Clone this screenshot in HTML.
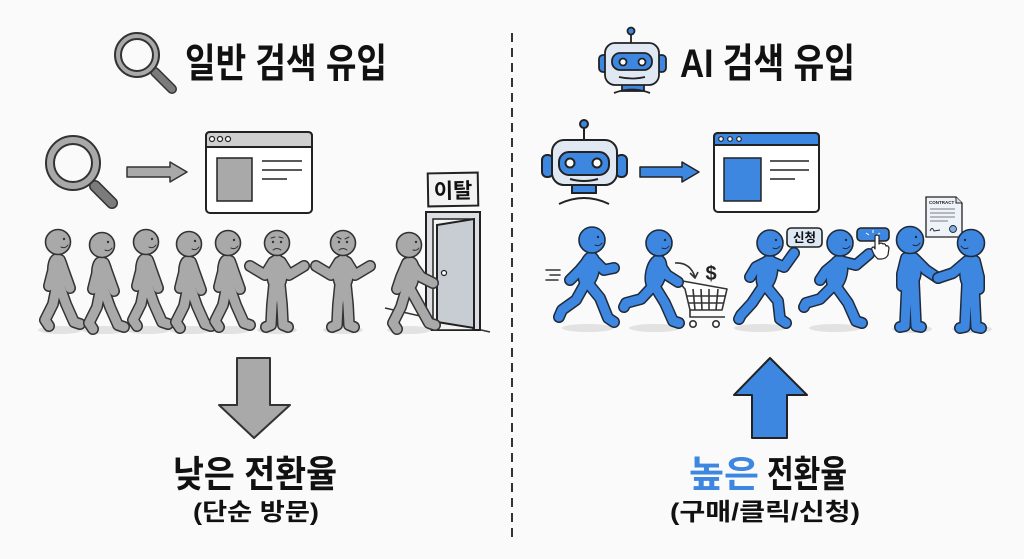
<!DOCTYPE html>
<html><head><meta charset="utf-8"><style>
html,body{margin:0;padding:0;background:#fafafa;}
svg{display:block;}
text{font-family:"Liberation Sans","Noto Sans CJK KR",sans-serif;font-weight:700;}
</style></head><body>
<svg width="1024" height="559" viewBox="0 0 1024 559" xmlns="http://www.w3.org/2000/svg">
<defs>
<g id="walk">
 <ellipse cx="0" cy="30" rx="5" ry="13" transform="rotate(-4 0 30)"/>
 <path fill="none" d="M-1,42 L-5,62 L-13,78 L-9,84"/>
 <path fill="none" d="M1,42 L8,62 L16,80 L22,82"/>
 <path fill="none" d="M-2,18 L-6,32 L-9,44"/>
 <path fill="none" d="M2,18 L7,32 L12,46"/>
</g>
<g id="walkdoor">
 <ellipse cx="0" cy="30" rx="5" ry="13" transform="rotate(6 0 30)"/>
 <path fill="none" d="M-2,42 L-8,62 L-16,78 L-12,84"/>
 <path fill="none" d="M0,42 L10,60 L20,78 L26,80"/>
 <path fill="none" d="M-2,18 L-8,32 L-12,44"/>
 <path fill="none" d="M2,18 L12,32 L24,38"/>
</g>
<g id="shrug">
 <ellipse cx="0" cy="30" rx="5" ry="13"/>
 <path fill="none" d="M-3,42 L-5,62 L-6,82 L-11,84"/>
 <path fill="none" d="M3,42 L5,62 L6,82 L11,84"/>
 <path fill="none" d="M-4,19 L-12,32 L-22,26 L-27,23"/>
 <path fill="none" d="M4,19 L12,32 L22,26 L27,23"/>
</g>
<g id="run1">
 <ellipse cx="-3" cy="30" rx="5" ry="13" transform="rotate(12 -3 30)"/>
 <path fill="none" d="M-6,42 L-16,60 L-30,70 L-33,77"/>
 <path fill="none" d="M-5,42 L8,58 L16,78 L22,82"/>
 <path fill="none" d="M-2,18 L-12,30 L-22,40"/>
 <path fill="none" d="M0,18 L12,30 L22,28"/>
</g>
<g id="run2">
 <ellipse cx="-3" cy="30" rx="5" ry="13" transform="rotate(12 -3 30)"/>
 <path fill="none" d="M-5,42 L-18,56 L-33,60 L-35,64"/>
 <path fill="none" d="M-5,42 L6,60 L14,78 L20,80"/>
 <path fill="none" d="M-1,19 L8,32 L19,39"/>
</g>
<g id="run3">
 <ellipse cx="-3" cy="30" rx="5" ry="13" transform="rotate(12 -3 30)"/>
 <path fill="none" d="M-6,42 L-18,60 L-29,72 L-31,76"/>
 <path fill="none" d="M-5,42 L8,58 L10,76 L16,80"/>
 <path fill="none" d="M-2,18 L-14,24 L-20,34"/>
 <path fill="none" d="M0,18 L14,24 L24,10"/>
</g>
<g id="run4">
 <ellipse cx="-3" cy="30" rx="5" ry="13" transform="rotate(12 -3 30)"/>
 <path fill="none" d="M-6,42 L-20,56 L-34,60 L-36,64"/>
 <path fill="none" d="M-5,42 L8,60 L16,78 L22,80"/>
 <path fill="none" d="M-2,18 L-14,28 L-20,37"/>
 <path fill="none" d="M0,18 L16,22 L29,11"/>
</g>
<g id="shakeL">
 <ellipse cx="0" cy="30" rx="6" ry="13"/>
 <path fill="none" d="M-3,42 L-5,86 L-10,87"/>
 <path fill="none" d="M4,42 L6,86 L11,87"/>
 <path fill="none" d="M-4,18 L-8,34 L-8,46"/>
 <path fill="none" d="M4,18 L16,30 L28,38"/>
</g>
<g id="shakeR">
 <ellipse cx="0" cy="30" rx="6" ry="13"/>
 <path fill="none" d="M3,42 L5,84 L10,85"/>
 <path fill="none" d="M-4,42 L-6,84 L-11,85"/>
 <path fill="none" d="M4,18 L8,34 L8,46"/>
 <path fill="none" d="M-4,18 L-18,30 L-33,35"/>
</g>
</defs>

<!-- divider -->
<line x1="512" y1="33" x2="512" y2="537" stroke="#333" stroke-width="2" stroke-dasharray="9,6"/>

<!-- ===== LEFT TITLE ===== -->
<g>
 <line x1="155" y1="72" x2="172" y2="89" stroke="#333" stroke-width="10" stroke-linecap="round"/>
 <line x1="155" y1="72" x2="172" y2="89" stroke="#7b7b7b" stroke-width="7" stroke-linecap="round"/>
 <circle cx="137" cy="55" r="22" fill="#a9a9a9" stroke="#333" stroke-width="2"/>
 <circle cx="137" cy="55" r="16" fill="#fafafa" stroke="#333" stroke-width="2"/>
</g>
<text x="185" y="77" font-size="40" fill="#111" textLength="202" lengthAdjust="spacingAndGlyphs">일반 검색 유입</text>

<!-- ===== RIGHT TITLE robot ===== -->
<g stroke="#222" stroke-width="1.8">
 <line x1="631" y1="33" x2="631" y2="43"/>
 <circle cx="631" cy="31" r="3.5" fill="#3d87e0"/>
 <rect x="599" y="55" width="9" height="17" rx="4" fill="#3d87e0"/>
 <rect x="657" y="55" width="9" height="17" rx="4" fill="#3d87e0"/>
 <rect x="622" y="84" width="22" height="7" fill="#3d87e0"/>
 <path d="M614,93 Q632,86 650,93" fill="none"/>
 <rect x="605" y="43" width="54" height="42" rx="10" fill="#dfe8f3"/>
 <rect x="612" y="53" width="40" height="17" rx="8" fill="#3d87e0"/>
 <circle cx="623" cy="62" r="3.5" fill="#fff"/>
 <circle cx="642" cy="62" r="3.5" fill="#fff"/>
 <path d="M619,77 Q632,80 645,77" fill="none"/>
</g>
<text x="680" y="77" font-size="40" fill="#111" textLength="175" lengthAdjust="spacingAndGlyphs">AI 검색 유입</text>

<!-- ===== LEFT ROW 2 ===== -->
<g>
 <line x1="95" y1="186" x2="112" y2="203" stroke="#333" stroke-width="12" stroke-linecap="round"/>
 <line x1="95" y1="186" x2="112" y2="203" stroke="#7b7b7b" stroke-width="9" stroke-linecap="round"/>
 <circle cx="73" cy="163" r="27" fill="#a9a9a9" stroke="#333" stroke-width="2"/>
 <circle cx="73" cy="163" r="19" fill="#fafafa" stroke="#333" stroke-width="2"/>
</g>
<polygon points="127,167 170,167 170,162 187,172 170,182 170,177 127,177" fill="#a9a9a9" stroke="#333" stroke-width="1.5" stroke-linejoin="round"/>
<g stroke="#222" stroke-width="2">
 <rect x="206" y="132" width="106" height="81" rx="4" fill="#fff"/>
 <path d="M206,147 L312,147 L312,136 Q312,132 308,132 L210,132 Q206,132 206,136 Z" fill="#cfcfcf"/>
 <circle cx="212" cy="139" r="2.5" fill="#fff" stroke-width="1.2"/>
 <circle cx="220" cy="139" r="2.5" fill="#fff" stroke-width="1.2"/>
 <circle cx="228" cy="139" r="2.5" fill="#fff" stroke-width="1.2"/>
 <rect x="217" y="158" width="35" height="43" fill="#a9a9a9" stroke-width="1.5"/>
 <line x1="262" y1="161" x2="302" y2="161" stroke-width="1.5"/>
 <line x1="262" y1="170" x2="302" y2="170" stroke-width="1.5"/>
 <line x1="262" y1="179" x2="287" y2="179" stroke-width="1.5"/>
</g>

<!-- door -->
<line x1="385" y1="308" x2="490" y2="332" stroke="#333" stroke-width="1.5"/>
<g transform="rotate(-1 453 190)">
 <rect x="428" y="173" width="50" height="33" fill="#f3f3f3" stroke="#222" stroke-width="2"/>
 <text x="453" y="198" font-size="21" text-anchor="middle" fill="#111">이탈</text>
</g>
<rect x="426" y="212" width="54" height="118" fill="#dcdee1" stroke="#222" stroke-width="2"/>
<rect x="433" y="219" width="40" height="111" fill="#f4f4f4" stroke="#222" stroke-width="1.5"/>
<polygon points="437,225 474,219 474,328 437,322" fill="#c8cdd4" stroke="#222" stroke-width="2"/>
<circle cx="444" cy="273" r="2.5" fill="#fff" stroke="#222" stroke-width="1.2"/>

<!-- gray people shadows -->
<g fill="#e2e2e2">
 <ellipse cx="60" cy="330" rx="22" ry="4"/>
 <ellipse cx="104" cy="330" rx="22" ry="4"/>
 <ellipse cx="148" cy="330" rx="22" ry="4"/>
 <ellipse cx="191" cy="330" rx="22" ry="4"/>
 <ellipse cx="230" cy="330" rx="20" ry="4"/>
 <ellipse cx="277" cy="330" rx="20" ry="4"/>
 <ellipse cx="343" cy="330" rx="20" ry="4"/>
 <ellipse cx="409" cy="330" rx="22" ry="4"/>
</g>

<!-- gray people -->
<g stroke-linecap="round" stroke-linejoin="round">
 <g transform="translate(58,242)"><use href="#walk" stroke="#333" fill="#333" stroke-width="12"/><use href="#walk" stroke="#a9a9a9" fill="#a9a9a9" stroke-width="9"/><circle r="12.5" fill="#a9a9a9" stroke="#333" stroke-width="1.6"/><circle cx="6" cy="-3" r="1.2" fill="#333"/><path d="M3,5 Q7,7 10,3" fill="none" stroke="#333" stroke-width="1"/></g>
 <g transform="translate(102,245)"><use href="#walk" stroke="#333" fill="#333" stroke-width="12"/><use href="#walk" stroke="#a9a9a9" fill="#a9a9a9" stroke-width="9"/><circle r="12.5" fill="#a9a9a9" stroke="#333" stroke-width="1.6"/><circle cx="6" cy="-3" r="1.2" fill="#333"/><path d="M3,5 Q7,7 10,3" fill="none" stroke="#333" stroke-width="1"/></g>
 <g transform="translate(146,242)"><use href="#walk" stroke="#333" fill="#333" stroke-width="12"/><use href="#walk" stroke="#a9a9a9" fill="#a9a9a9" stroke-width="9"/><circle r="12.5" fill="#a9a9a9" stroke="#333" stroke-width="1.6"/><circle cx="6" cy="-3" r="1.2" fill="#333"/><path d="M3,5 Q7,7 10,3" fill="none" stroke="#333" stroke-width="1"/></g>
 <g transform="translate(189,244)"><use href="#walk" stroke="#333" fill="#333" stroke-width="12"/><use href="#walk" stroke="#a9a9a9" fill="#a9a9a9" stroke-width="9"/><circle r="12.5" fill="#a9a9a9" stroke="#333" stroke-width="1.6"/><circle cx="6" cy="-3" r="1.2" fill="#333"/><path d="M3,5 Q7,7 10,3" fill="none" stroke="#333" stroke-width="1"/></g>
 <g transform="translate(228,243)"><use href="#walk" stroke="#333" fill="#333" stroke-width="12"/><use href="#walk" stroke="#a9a9a9" fill="#a9a9a9" stroke-width="9"/><circle r="12.5" fill="#a9a9a9" stroke="#333" stroke-width="1.6"/><circle cx="6" cy="-3" r="1.2" fill="#333"/><path d="M3,5 Q7,7 10,3" fill="none" stroke="#333" stroke-width="1"/></g>
 <g transform="translate(277,243)"><use href="#shrug" stroke="#333" fill="#333" stroke-width="12"/><use href="#shrug" stroke="#a9a9a9" fill="#a9a9a9" stroke-width="9"/><circle r="12.5" fill="#a9a9a9" stroke="#333" stroke-width="1.6"/><circle cx="-4" cy="-1" r="1.2" fill="#333"/><circle cx="4" cy="-1" r="1.2" fill="#333"/><path d="M-6,-5 L-2,-6 M2,-6 L6,-5" stroke="#333" stroke-width="1" fill="none"/><path d="M-4,7 Q0,4 4,7" fill="none" stroke="#333" stroke-width="1"/></g>
 <g transform="translate(343,243)"><use href="#shrug" stroke="#333" fill="#333" stroke-width="12"/><use href="#shrug" stroke="#a9a9a9" fill="#a9a9a9" stroke-width="9"/><circle r="12.5" fill="#a9a9a9" stroke="#333" stroke-width="1.6"/><circle cx="-4" cy="-1" r="1.2" fill="#333"/><circle cx="4" cy="-1" r="1.2" fill="#333"/><path d="M-6,-6 L-2,-4 M2,-4 L6,-6" stroke="#333" stroke-width="1" fill="none"/><path d="M-4,7 Q0,4 4,7" fill="none" stroke="#333" stroke-width="1"/></g>
 <g transform="translate(409,245)"><use href="#walkdoor" stroke="#333" fill="#333" stroke-width="12"/><use href="#walkdoor" stroke="#a9a9a9" fill="#a9a9a9" stroke-width="9"/><circle r="12.5" fill="#a9a9a9" stroke="#333" stroke-width="1.6"/><circle cx="7" cy="-3" r="1.2" fill="#333"/><path d="M4,5 Q8,6 10,3" fill="none" stroke="#333" stroke-width="1"/></g>
</g>

<!-- ===== RIGHT ROW 2 ===== -->
<g stroke="#222" stroke-width="2">
 <line x1="584" y1="127" x2="584" y2="140"/>
 <circle cx="584" cy="124" r="4" fill="#3d87e0"/>
 <rect x="542" y="155" width="11" height="22" rx="5" fill="#3d87e0"/>
 <rect x="616" y="155" width="11" height="22" rx="5" fill="#3d87e0"/>
 <rect x="572" y="184" width="24" height="9" fill="#3d87e0"/>
 <path d="M559,204 Q584,192 609,204" fill="none"/>
 <rect x="552" y="140" width="65" height="45" rx="12" fill="#dfe8f3"/>
 <rect x="559" y="152" width="50" height="23" rx="10" fill="#3d87e0"/>
 <circle cx="570" cy="163" r="4.5" fill="#fff"/>
 <circle cx="597" cy="163" r="4.5" fill="#fff"/>
 <path d="M570,179 Q584,183 598,179" fill="none"/>
</g>
<polygon points="640,167 682,167 682,162 699,172 682,182 682,177 640,177" fill="#3d87e0" stroke="#222" stroke-width="1.5" stroke-linejoin="round"/>
<g stroke="#222" stroke-width="2">
 <rect x="714" y="133" width="105" height="79" rx="4" fill="#fff"/>
 <path d="M714,145 L819,145 L819,137 Q819,133 815,133 L718,133 Q714,133 714,137 Z" fill="#3d87e0"/>
 <circle cx="721" cy="139" r="2.3" fill="#fff" stroke-width="1.2"/>
 <circle cx="730" cy="139" r="2.3" fill="#fff" stroke-width="1.2"/>
 <circle cx="739" cy="139" r="2.3" fill="#fff" stroke-width="1.2"/>
 <rect x="724" y="158" width="37" height="43" fill="#3d87e0" stroke-width="1.5"/>
 <line x1="770" y1="161" x2="809" y2="161" stroke-width="1.5"/>
 <line x1="770" y1="170" x2="809" y2="170" stroke-width="1.5"/>
 <line x1="770" y1="179" x2="795" y2="179" stroke-width="1.5"/>
</g>

<!-- blue shadows -->
<g fill="#e2e2e2">
 <ellipse cx="588" cy="328" rx="26" ry="4"/>
 <ellipse cx="655" cy="328" rx="26" ry="4"/>
 <ellipse cx="760" cy="328" rx="26" ry="4"/>
 <ellipse cx="835" cy="328" rx="26" ry="4"/>
 <ellipse cx="912" cy="329" rx="20" ry="4"/>
 <ellipse cx="972" cy="329" rx="20" ry="4"/>
</g>

<!-- speed lines -->
<g stroke="#333" stroke-width="1.5" stroke-linecap="round">
 <line x1="546" y1="270" x2="560" y2="270"/>
 <line x1="550" y1="275" x2="560" y2="275"/>
 <line x1="546" y1="280" x2="558" y2="280"/>
</g>

<!-- cart -->
<g stroke="#333" stroke-width="1.6" fill="none" stroke-linejoin="round">
 <path d="M677,280 L685,289 L690,310 L722,310 L727,289 Z" fill="#fff"/>
 <line x1="693" y1="289" x2="695" y2="310"/>
 <line x1="701" y1="289" x2="702" y2="310"/>
 <line x1="709" y1="289" x2="709" y2="310"/>
 <line x1="718" y1="289" x2="716" y2="310"/>
 <line x1="687" y1="296" x2="725" y2="296"/>
 <line x1="688" y1="303" x2="724" y2="303"/>
 <path d="M690,310 L690,317 L725,317"/>
 <circle cx="693" cy="324" r="3.2" fill="#fff"/>
 <circle cx="716" cy="324" r="3.2" fill="#fff"/>
 <path d="M675,263 Q690,262 695,277"/>
 <path d="M690,273 L695,278 L698,272"/>
</g>
<text x="711" y="280" font-size="20" text-anchor="middle" fill="#222" font-weight="400">$</text>

<!-- badge 신청 -->
<rect x="787" y="228" width="35" height="19" rx="4" fill="#dde8f5" stroke="#222" stroke-width="1.6"/>
<text x="804.5" y="242" font-size="12.5" text-anchor="middle" fill="#111">신청</text>

<!-- button -->
<rect x="857" y="228" width="32" height="13" rx="4" fill="#3d87e0" stroke="#222" stroke-width="1.6"/>
<g stroke="#fff" stroke-width="1">
 <line x1="873" y1="230" x2="873" y2="233"/>
 <line x1="866" y1="233" x2="869" y2="235"/>
 <line x1="880" y1="233" x2="877" y2="235"/>
</g>

<!-- contract -->
<path d="M926,197 L956,197 L962,203 L962,237 L926,237 Z" fill="#eef3f9" stroke="#222" stroke-width="1.3"/>
<path d="M956,197 L956,203 L962,203" fill="#dde" stroke="#222" stroke-width="1"/>
<text x="929" y="204" font-size="4.5" fill="#222" font-family="Liberation Sans, sans-serif">CONTRACT</text>
<g stroke="#555" stroke-width="0.8">
 <line x1="930" y1="209" x2="955" y2="209"/>
 <line x1="930" y1="213" x2="955" y2="213"/>
 <line x1="930" y1="217" x2="955" y2="217"/>
 <line x1="930" y1="221" x2="948" y2="221"/>
</g>
<path d="M930,231 Q932,226 934,231 L940,230" fill="none" stroke="#222" stroke-width="0.9"/>
<circle cx="953" cy="229" r="3.5" fill="#7fb0e8" stroke="#222" stroke-width="0.9"/>

<!-- blue people -->
<g stroke-linecap="round" stroke-linejoin="round">
 <g transform="translate(592,240)"><use href="#run1" stroke="#1f2a3a" fill="#1f2a3a" stroke-width="12"/><use href="#run1" stroke="#3d87e0" fill="#3d87e0" stroke-width="9"/><circle r="13" fill="#3d87e0" stroke="#1f2a3a" stroke-width="1.6"/><circle cx="6" cy="-3" r="1.2" fill="#1f2a3a"/><path d="M3,5 Q7,7 10,3" fill="none" stroke="#1f2a3a" stroke-width="1"/></g>
 <g transform="translate(659,243)"><use href="#run2" stroke="#1f2a3a" fill="#1f2a3a" stroke-width="12"/><use href="#run2" stroke="#3d87e0" fill="#3d87e0" stroke-width="9"/><circle r="13" fill="#3d87e0" stroke="#1f2a3a" stroke-width="1.6"/><circle cx="6" cy="-3" r="1.2" fill="#1f2a3a"/><path d="M3,5 Q7,7 10,3" fill="none" stroke="#1f2a3a" stroke-width="1"/></g>
 <g transform="translate(770,243)"><use href="#run3" stroke="#1f2a3a" fill="#1f2a3a" stroke-width="12"/><use href="#run3" stroke="#3d87e0" fill="#3d87e0" stroke-width="9"/><circle r="13" fill="#3d87e0" stroke="#1f2a3a" stroke-width="1.6"/><circle cx="6" cy="-3" r="1.2" fill="#1f2a3a"/><path d="M3,5 Q7,7 10,3" fill="none" stroke="#1f2a3a" stroke-width="1"/></g>
 <g transform="translate(840,243)"><use href="#run4" stroke="#1f2a3a" fill="#1f2a3a" stroke-width="12"/><use href="#run4" stroke="#3d87e0" fill="#3d87e0" stroke-width="9"/><circle r="13" fill="#3d87e0" stroke="#1f2a3a" stroke-width="1.6"/><circle cx="6" cy="-3" r="1.2" fill="#1f2a3a"/><path d="M3,5 Q7,7 10,3" fill="none" stroke="#1f2a3a" stroke-width="1"/></g>
 <g transform="translate(910,240)"><use href="#shakeL" stroke="#1f2a3a" fill="#1f2a3a" stroke-width="12"/><use href="#shakeL" stroke="#3d87e0" fill="#3d87e0" stroke-width="9"/><circle r="13.5" fill="#3d87e0" stroke="#1f2a3a" stroke-width="1.6"/><circle cx="6" cy="-3" r="1.2" fill="#1f2a3a"/><path d="M3,5 Q7,7 10,3" fill="none" stroke="#1f2a3a" stroke-width="1"/></g>
 <g transform="translate(971,243)"><use href="#shakeR" stroke="#1f2a3a" fill="#1f2a3a" stroke-width="12"/><use href="#shakeR" stroke="#3d87e0" fill="#3d87e0" stroke-width="9"/><circle r="13.5" fill="#3d87e0" stroke="#1f2a3a" stroke-width="1.6"/><circle cx="-6" cy="-3" r="1.2" fill="#1f2a3a"/><path d="M-3,5 Q-7,7 -10,3" fill="none" stroke="#1f2a3a" stroke-width="1"/></g>
</g>

<!-- hand cursor -->
<path d="M875,236 Q877,234 879,236 L879,244 Q881,242 883,244 Q885,243 886,246 Q888,245 889,248 L888,255 Q886,259 881,259 L878,259 Q874,256 872,250 Q871,247 874,247 L875,249 Z" fill="#fff" stroke="#222" stroke-width="1.2" stroke-linejoin="round"/>

<!-- ===== BOTTOM ===== -->
<polygon points="237,358 270,358 270,405 290,405 254,438 219,405 237,405" fill="#a9a9a9" stroke="#333" stroke-width="2" stroke-linejoin="round"/>
<polygon points="770,358 807,395 787,395 787,438 752,438 752,395 734,395" fill="#3d87e0" stroke="#222" stroke-width="2" stroke-linejoin="round"/>

<text x="173" y="487" font-size="37" fill="#111" textLength="164" lengthAdjust="spacingAndGlyphs">낮은 전환율</text>
<text x="193" y="520" font-size="24" fill="#111" textLength="126" lengthAdjust="spacingAndGlyphs">(단순 방문)</text>

<text x="689" y="487" font-size="37" fill="#3d87e0" textLength="70" lengthAdjust="spacingAndGlyphs">높은</text>
<text x="767" y="487" font-size="37" fill="#111" textLength="80" lengthAdjust="spacingAndGlyphs">전환율</text>
<text x="670" y="520" font-size="24" fill="#111" textLength="190" lengthAdjust="spacingAndGlyphs">(구매/클릭/신청)</text>
</svg>
</body></html>
